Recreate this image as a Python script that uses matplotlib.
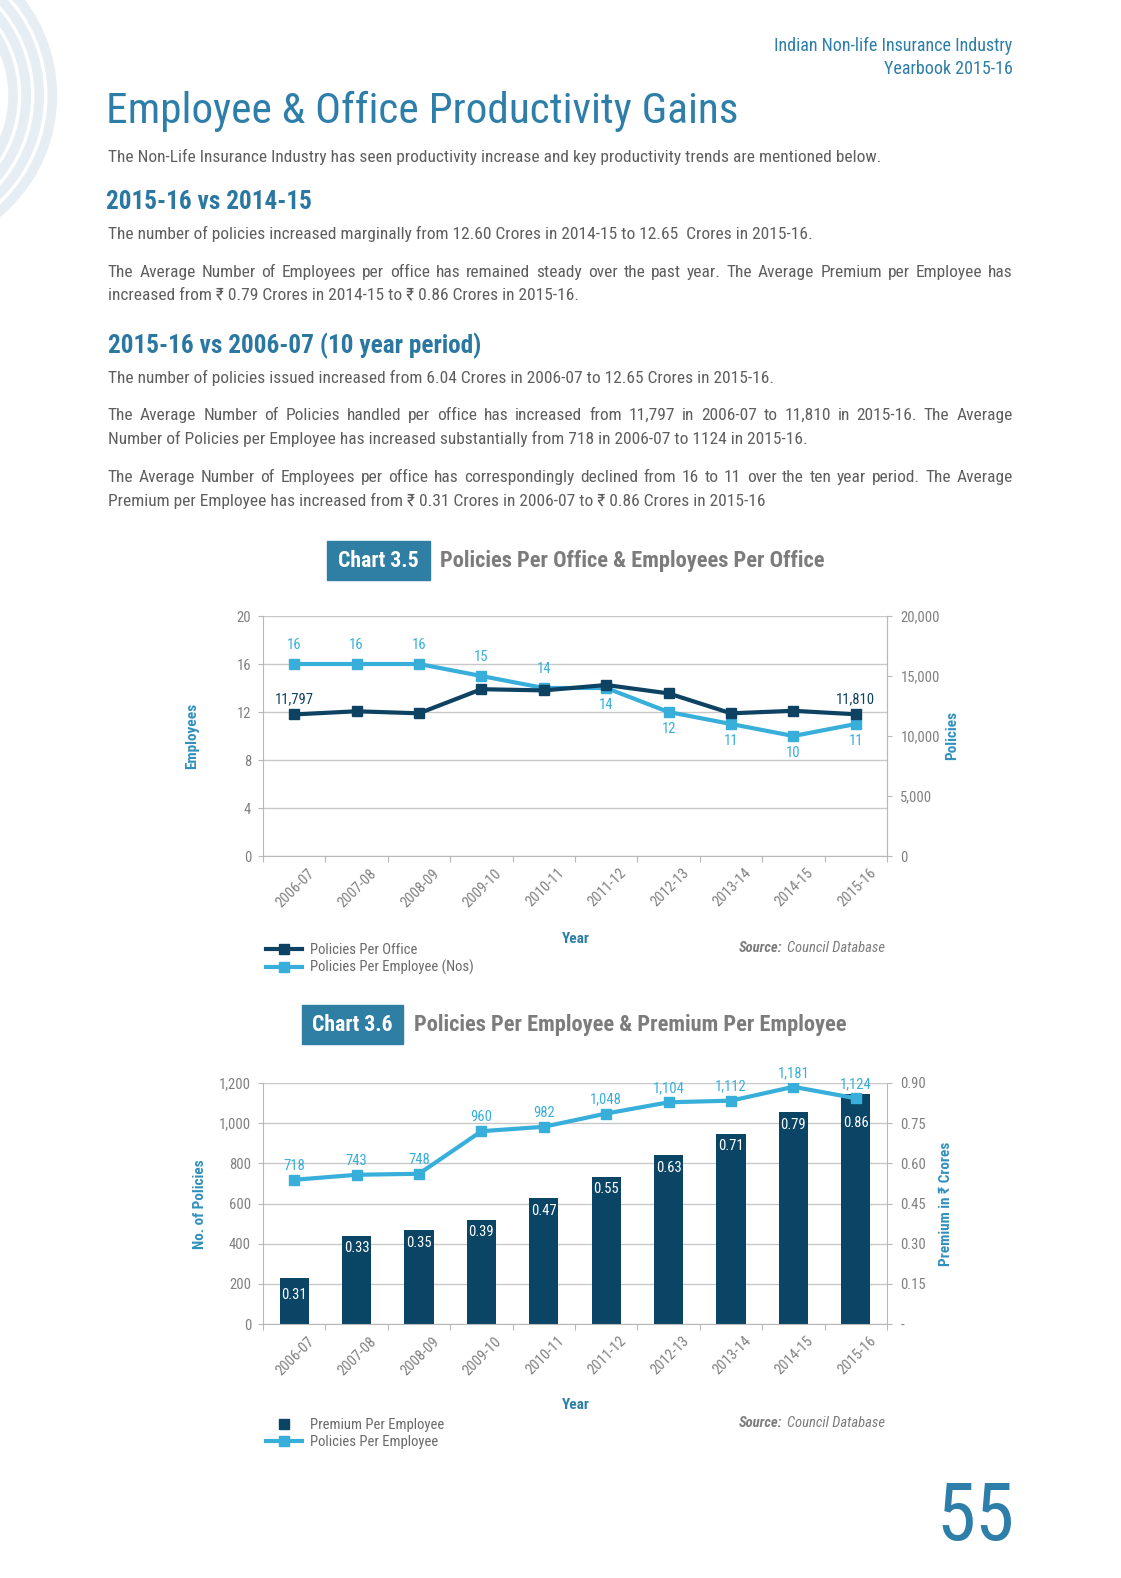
import numpy as np
import matplotlib
matplotlib.use("Agg")
import matplotlib.pyplot as plt
from matplotlib import font_manager
from matplotlib.patches import Arc, Rectangle
from matplotlib.lines import Line2D
from matplotlib.transforms import ScaledTranslation

installed = {f.name for f in font_manager.fontManager.ttflist}
main_font = next(f for f in ['Roboto Condensed', 'Liberation Sans Narrow', 'Roboto', 'DejaVu Sans']
                 if f in installed)
plt.rcParams['font.family'] = [main_font, 'DejaVu Sans']

# ---- data ----
years = ['2006-07', '2007-08', '2008-09', '2009-10', '2010-11',
         '2011-12', '2012-13', '2013-14', '2014-15', '2015-16']
employees_per_office = [16, 16, 16, 15, 14, 14, 12, 11, 10, 11]
policies_per_office = [11797, 12060, 11890, 13900, 13800, 14250, 13550, 11890, 12100, 11810]
policies_per_employee = [718, 743, 748, 960, 982, 1048, 1104, 1112, 1181, 1124]
premium_per_employee = [0.31, 0.33, 0.35, 0.39, 0.47, 0.55, 0.63, 0.71, 0.79, 0.86]
# the first bar is drawn shorter than its label in the source chart
premium_bar_height = [0.17, 0.33, 0.35, 0.39, 0.47, 0.55, 0.63, 0.71, 0.79, 0.86]

# colours
TITLE = '#2d7ea8'
HEAD = '#2a78a2'
GRAY = '#5e5e5e'
SUBGRAY = '#7c7c7c'
BOX = '#2f7ea3'
AXTITLE = '#3190be'
DARK = '#0d4263'
LIGHT = '#38aedb'
BAR = '#0b4566'
GRID = '#c8c8c8'
SPINE = '#b8b8b8'
TICK = '#808080'
LEGEND = '#6a6a6a'

W, H = 1121, 1578
S = 1.0067          # page units -> pixels
fig = plt.figure(figsize=(W / 100, H / 100), dpi=100)
page = fig.add_axes([0, 0, 1, 1])
page.set_xlim(0, W / S)
page.set_ylim(H / S, 0)
page.axis('off')
renderer = fig.canvas.get_renderer()

# decorative arcs, top left
for r in [152, 139, 126, 113]:
    page.add_patch(Arc((-100, 95), 2 * r, 2 * r, theta1=-90, theta2=90, lw=7, color='#e7eef3'))


def txt(x, y, s, size, color=GRAY, **kw):
    kw.setdefault('va', 'baseline')
    return page.text(x, y, s, fontsize=size, color=color, **kw)


def width_of(t):
    return t.get_window_extent(renderer).width / S


def fit(x, y, s, target, color=GRAY, **kw):
    """place text and scale its font so it spans `target` page units"""
    t = txt(x, y, s, 12, color, **kw)
    size = 12 * target / width_of(t)
    t.set_fontsize(size)
    return size


def justify(x0, x1, y, s, size):
    words = [txt(x0, y, w, size) for w in s.split()]
    widths = [width_of(t) for t in words]
    gap = (x1 - x0 - sum(widths)) / (len(words) - 1)
    x = x0
    for t, w in zip(words, widths):
        t.set_x(x)
        x += w + gap


# ---- page header and text ----
hdr = fit(1006, 51, 'Indian Non-life Insurance Industry', 237, TITLE, ha='right')
txt(1006, 74, 'Yearbook 2015-16', hdr, TITLE, ha='right')
fit(105, 122, 'Employee & Office Productivity Gains', 627, TITLE)

body = fit(107, 161, 'The Non-Life Insurance Industry has seen productivity increase and key '
                     'productivity trends are mentioned below.', 767)
head = fit(105, 208, '2015-16 vs 2014-15', 204, HEAD, fontweight='bold')
txt(107, 237, 'The number of policies increased marginally from 12.60 Crores in 2014-15 to '
              '12.65  Crores in 2015-16.', body)
justify(107, 1006, 275, 'The Average Number of Employees per office has remained steady over the '
                        'past year. The Average Premium per Employee has', body)
txt(107, 298, 'increased from \u20b9 0.79 Crores in 2014-15 to \u20b9 0.86 Crores in 2015-16.', body)

txt(107, 351, '2015-16 vs 2006-07 (10 year period)', head, HEAD, fontweight='bold')
txt(107, 380, 'The number of policies issued increased from 6.04 Crores in 2006-07 to 12.65 '
              'Crores in 2015-16.', body)
justify(107, 1006, 417, 'The Average Number of Policies handled per office has increased from '
                        '11,797 in 2006-07 to 11,810 in 2015-16. The Average', body)
txt(107, 441, 'Number of Policies per Employee has increased substantially from 718 in 2006-07 '
              'to 1124 in 2015-16.', body)
justify(107, 1006, 479, 'The Average Number of Employees per office has correspondingly declined '
                        'from 16 to 11 over the ten year period. The Average', body)
txt(107, 503, 'Premium per Employee has increased from \u20b9 0.31 Crores in 2006-07 to '
              '\u20b9 0.86 Crores in 2015-16', body)

# chart title boxes
page.add_patch(Rectangle((325, 537), 102, 39, color=BOX))
box = fit(376, 557, 'Chart 3.5', 80, 'white', ha='center', va='center', fontweight='bold')
sub = fit(437, 557, 'Policies Per Office & Employees Per Office', 383, SUBGRAY,
          va='center', fontweight='bold')
page.add_patch(Rectangle((300, 998), 100, 39, color=BOX))
txt(350, 1018, 'Chart 3.6', box, 'white', ha='center', va='center', fontweight='bold')
txt(411, 1018, 'Policies Per Employee & Premium Per Employee', sub, SUBGRAY,
    va='center', fontweight='bold')

fit(1008, 1530, '55', 78, TITLE, ha='right')

# axis titles and notes
for (x, y, s) in [(191, 731, 'Employees'), (946, 731, 'Policies'),
                  (199, 1196, 'No. of Policies'), (940, 1196, 'Premium in \u20b9 Crores')]:
    txt(x, y, s, 11, AXTITLE, rotation=90, ha='center', va='center', fontweight='bold')
for y in [933, 1396]:
    txt(572, y, 'Year', 11, TITLE, ha='center', va='center', fontweight='bold')
for y in [942, 1414]:
    s = txt(734, y, 'Source:', 10.5, SUBGRAY, va='center', fontweight='bold', fontstyle='italic')
    txt(734 + width_of(s) + 4, y, 'Council Database', 10.5, SUBGRAY, va='center', fontstyle='italic')

x = np.arange(len(years))
lab_off = ScaledTranslation(18 / 100, -15 / 100, fig.dpi_scale_trans)


def frame(ax):
    ax.set_facecolor('none')
    ax.set_xlim(-0.5, len(years) - 0.5)
    ax.set_xticks(np.arange(-0.5, len(years)))
    ax.tick_params(axis='x', labelbottom=False, length=4.5, color=SPINE)
    ax.tick_params(axis='y', length=3.6, color=SPINE, labelcolor=TICK, labelsize=10.5, pad=5)
    ax.grid(axis='y', color=GRID, lw=1)
    ax.set_axisbelow(True)
    ax.spines['top'].set_visible(False)
    for s in ['left', 'bottom', 'right']:
        ax.spines[s].set_color(SPINE)
    for i, yr in enumerate(years):
        ax.text(i, 0, yr, transform=ax.get_xaxis_transform() + lab_off, rotation=45,
                ha='right', va='center', rotation_mode='anchor', color=TICK, fontsize=10.5)


def twin_frame(ax2):
    for s in ['top', 'left', 'bottom']:
        ax2.spines[s].set_visible(False)
    ax2.spines['right'].set_color(SPINE)
    ax2.tick_params(axis='y', length=3.6, color=SPINE, labelcolor=TICK, labelsize=10.5, pad=6)


# ---- Chart 3.5 ----
ax = fig.add_axes([263 / W, 1 - 856 / H, 624 / W, 240 / H])
frame(ax)
ax.set_ylim(0, 20)
ax.set_yticks(range(0, 21, 4))
emp_line, = ax.plot(x, employees_per_office, color=LIGHT, lw=3, marker='s', ms=7.5, zorder=3)
for i, v in enumerate(employees_per_office):
    dy = 14 if i < 5 else -12
    ax.annotate(str(v), (i, v), xytext=(0, dy), textcoords='offset points',
                ha='center', va='center', color=LIGHT, fontsize=10.5)

ax2 = ax.twinx()
twin_frame(ax2)
ax2.set_ylim(0, 20000)
ticks = list(range(0, 20001, 5000))
ax2.set_yticks(ticks, [f'{t:,}' for t in ticks])
pol_line, = ax2.plot(x, policies_per_office, color=DARK, lw=3, marker='s', ms=7.5)
for i in [0, len(years) - 1]:
    ax2.annotate(f'{policies_per_office[i]:,}', (i, policies_per_office[i]), xytext=(0, 11),
                 textcoords='offset points', ha='center', va='center', color=DARK, fontsize=10.5)

fig.legend(handles=[pol_line, emp_line], labels=['Policies Per Office', 'Policies Per Employee (Nos)'],
           loc='upper left', bbox_to_anchor=(266 / W, 1 - 943 / H), frameon=False, fontsize=10.5,
           labelcolor=LEGEND, handlelength=2.5, handletextpad=0.5, labelspacing=0.2,
           borderpad=0, borderaxespad=0)

# ---- Chart 3.6 ----
bx = fig.add_axes([263 / W, 1 - 1324 / H, 624 / W, 241 / H])
frame(bx)
bx.bar(x, premium_bar_height, width=0.47, color=BAR, zorder=2)
bx.set_ylim(0, 0.9)
pticks = np.linspace(0, 0.9, 7)
bx.set_yticks(pticks, ['-'] + [f'{t:.2f}' for t in pticks[1:]])
for i, (h, v) in enumerate(zip(premium_bar_height, premium_per_employee)):
    dy = -12 if i == 0 else (-21 if i == len(years) - 1 else -9)
    bx.annotate(f'{v:.2f}', (i, h), xytext=(0, dy), textcoords='offset points',
                ha='center', va='center', color='white', fontsize=10.5, zorder=4)

bx2 = bx.twinx()
twin_frame(bx2)
bx2.spines['right'].set_visible(False)
bx.yaxis.tick_right()
bx.tick_params(axis='y', pad=6)
bx2.yaxis.tick_left()
bx2.tick_params(axis='y', pad=5)
bx2.set_ylim(0, 1200)
lticks = list(range(0, 1201, 200))
bx2.set_yticks(lticks, [f'{t:,}' for t in lticks])
ppe_line, = bx2.plot(x, policies_per_employee, color=LIGHT, lw=3, marker='s', ms=7.5)
for i, v in enumerate(policies_per_employee):
    bx2.annotate(f'{v:,}', (i, v), xytext=(0, 10), textcoords='offset points',
                 ha='center', va='center', color=LIGHT, fontsize=10.5)

prem_handle = Line2D([], [], ls='none', marker='s', ms=7, color=BAR)
fig.legend(handles=[prem_handle, ppe_line], labels=['Premium Per Employee', 'Policies Per Employee'],
           loc='upper left', bbox_to_anchor=(266 / W, 1 - 1418 / H), frameon=False, fontsize=10.5,
           labelcolor=LEGEND, handlelength=2.5, handletextpad=0.5, labelspacing=0.2,
           borderpad=0, borderaxespad=0)

fig.savefig('out.png', dpi=100)
